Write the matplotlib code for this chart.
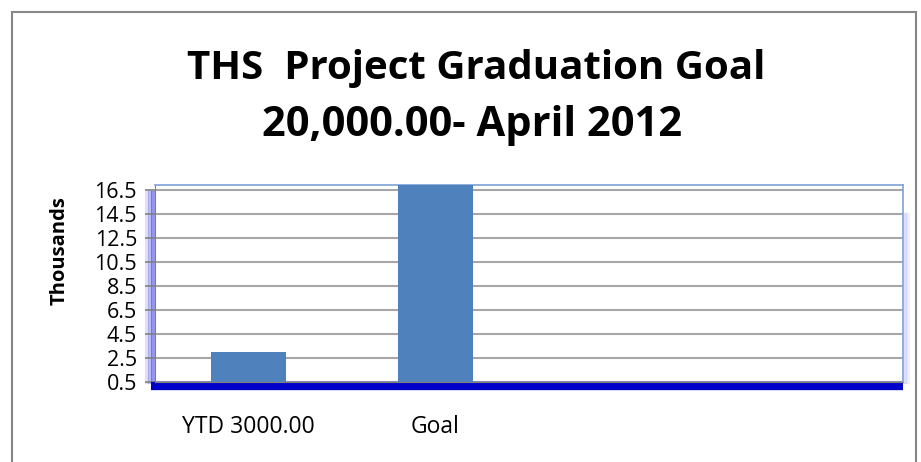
import matplotlib.pyplot as plt
from matplotlib.patches import Rectangle

# chart data (values in thousands)
categories = ['YTD 3000.00', 'Goal', '', '']
values = [3.0, 20.0, 0, 0]
yticks = [0.5, 2.5, 4.5, 6.5, 8.5, 10.5, 12.5, 14.5, 16.5]

plt.rcParams['font.family'] = ['Open Sans', 'DejaVu Sans']

fig = plt.figure(figsize=(9.21, 4.62), dpi=100)
ax = fig.add_axes([155 / 921, 80 / 462, 748 / 921, 197 / 462])

# outer chart border
fig.patches.append(Rectangle((12 / 921, -0.1), 904 / 921, 1.1 - 12 / 462,
                             transform=fig.transFigure, fill=False,
                             edgecolor='#888888', linewidth=1.5))

x = range(len(categories))
ax.bar(x, [v - 0.5 for v in values], bottom=0.5, width=0.4,
       color='#4F81BD', zorder=3)

ax.set_xlim(-0.5, len(categories) - 0.5)
ax.set_ylim(0.5, 16.9)
ax.set_yticks(yticks)
ax.set_yticklabels([str(t) for t in yticks], fontsize=15.5)
ax.set_xticks(list(x))
ax.set_xticklabels(categories, fontsize=16.5)
ax.tick_params(axis='x', length=0, pad=24)
ax.tick_params(axis='y', length=7, color='#808080', width=1.2, pad=6)

# category boundary ticks
ax.set_xticks([i + 0.5 for i in range(len(categories) - 1)], minor=True)
ax.tick_params(axis='x', which='minor', length=6, color='#808080', width=1.2)

ax.yaxis.grid(True, color='#A6A6A6', linewidth=1.5, zorder=0)

for side in ['top', 'right']:
    ax.spines[side].set_color('#7FA2D8')
    ax.spines[side].set_linewidth(1.2)
ax.spines['left'].set_color('#808080')
ax.spines['bottom'].set_color('#808080')

# 3D floor and wall shading
ax.plot([-0.006, 1], [-0.018, -0.018], transform=ax.transAxes, color='#0000C8',
        linewidth=6, clip_on=False, solid_capstyle='butt', zorder=2)
for off, a in [(-0.003, 0.5), (-0.007, 0.3), (-0.011, 0.15)]:
    ax.plot([off, off], [0, 0.96], transform=ax.transAxes, color='#3030E0',
            linewidth=3, alpha=a, clip_on=False, zorder=1)
for off, a in [(1.003, 0.2), (1.007, 0.1)]:
    ax.plot([off, off], [0, 0.85], transform=ax.transAxes, color='#6060F0',
            linewidth=3, alpha=a, clip_on=False, zorder=1)

fig.text(60 / 921, 1 - 251 / 462, 'Thousands', rotation=90,
         ha='center', va='center', fontsize=14.5, fontweight='bold')

fig.text(476 / 921, 1 - 68 / 462, 'THS  Project Graduation Goal',
         ha='center', va='center', fontsize=29, fontweight='bold')
fig.text(472 / 921, 1 - 126 / 462, '20,000.00- April 2012',
         ha='center', va='center', fontsize=30, fontweight='bold')

fig.savefig('out.png', dpi=100)
